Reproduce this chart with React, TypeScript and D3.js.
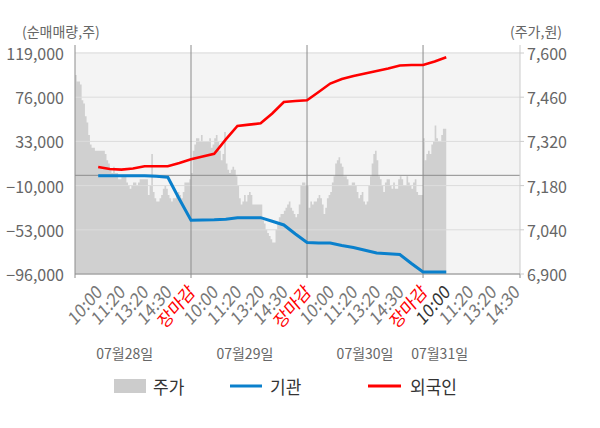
import React from "react";
import * as d3 from "d3";

// ---------- DATA ----------
const timeLabels = ["10:00", "11:20", "13:20", "14:30", "장마감"];
const dateLabels = ["07월28일", "07월29일", "07월30일", "07월31일"];
const dateLabelSlots = [30, 102.5, 175, 220];
const leftTicks = [119000, 76000, 33000, -10000, -53000, -96000];
const rightTicks = [7600, 7460, 7320, 7180, 7040, 6900];

// price (주가) per slot, each day 70 slots
const priceDay1 = [
  7530, 7510, 7510, 7500, 7450, 7440, 7400, 7380, 7340, 7310,
  7300, 7300, 7290, 7290, 7290, 7290, 7290, 7290, 7280, 7260,
  7250, 7230, 7220, 7240, 7220, 7220, 7200, 7200, 7210, 7210,
  7210, 7190, 7180, 7170, 7180, 7190, 7190, 7180, 7190, 7200,
  7200, 7200, 7200, 7200, 7150, 7180, 7280, 7160, 7140, 7130,
  7130, 7140, 7150, 7170, 7180, 7170, 7150, 7140, 7130, 7140,
  7140, 7150, 7160, 7150, 7140, 7160, 7190, 7190, 7190, 7200,
];
const priceDay2 = [
  7220, 7290, 7310, 7330, 7330, 7320, 7340, 7320, 7320, 7320,
  7320, 7330, 7300, 7310, 7330, 7340, 7320, 7290, 7260, 7280,
  7350, 7250, 7230, 7220, 7230, 7240, 7230, 7210, 7180, 7140,
  7120, 7130, 7150, 7130, 7150, 7160, 7150, 7120, 7120, 7120,
  7120, 7120, 7120, 7070, 7060, 7040, 7030, 7020, 7010, 7000,
  7000, 7040, 7060, 7080, 7090, 7090, 7100, 7110, 7120, 7130,
  7110, 7100, 7090, 7080, 7090, 7120, 7180, 7190, 7190, 7180,
];
const priceDay3 = [
  7180, 7110, 7130, 7120, 7130, 7130, 7140, 7150, 7140, 7120,
  7090, 7110, 7140, 7150, 7160, 7190, 7210, 7250, 7260, 7270,
  7250, 7240, 7210, 7210, 7200, 7180, 7180, 7190, 7190, 7180,
  7160, 7140, 7150, 7160, 7130, 7120, 7130, 7180, 7210, 7250,
  7280, 7290, 7260, 7210, 7200, 7180, 7160, 7190, 7200, 7200,
  7180, 7170, 7190, 7170, 7170, 7200, 7210, 7200, 7180, 7180,
  7210, 7190, 7180, 7170, 7190, 7200, 7160, 7150, 7150, 7150,
];
const priceDay4 = [7330, 7260, 7280, 7290, 7280, 7310, 7320, 7370, 7330, 7320, 7320, 7340, 7360, 7360];

// net buying (순매매량), one value every 7 slots starting at slot 14
const foreignNet = [
  8100, 6100, 5500, 6600, 8800, 8800, 8800, 12000, 15600, 18300,
  21000, 34900, 48000, 49300, 50600, 60100, 71300, 72300, 73000, 81000,
  89300, 93700, 96600, 99000, 101500, 103900, 106800, 107300, 107300, 110700,
  114800,
];
const institutionNet = [
  -300, -300, -300, -300, -300, -1000, -1900, -23300, -43800, -43500,
  -43300, -42800, -41300, -41200, -41200, -44700, -48300, -57100, -65400, -65800,
  -65800, -68300, -70200, -72900, -75600, -76300, -77000, -85800, -94100, -94100,
  -94100,
];

// ---------- LAYOUT ----------
const W = 600;
const H = 428;
const L = 75;
const R = 520;
const T = 52;
const B = 274;
const SLOTS_PER_DAY = 70;
const X_MAX = 268.5;
const FONT = "'Noto Sans CJK KR', 'Noto Sans', sans-serif";
const SY = 1.1; // slight vertical stretch of Hangul text seen in the reference

export default function App() {
  const x = d3.scaleLinear().domain([0, X_MAX]).range([L, R]);
  const yL = d3.scaleLinear().domain([-96000, 119000]).range([B, 53]);
  const yR = d3.scaleLinear().domain([6900, 7600]).range([B, 53]);

  const prices = [...priceDay1, ...priceDay2, ...priceDay3, ...priceDay4];
  const pricePts = prices.map((p, i) => [i, p] as [number, number]);
  pricePts.push([prices.length, prices[prices.length - 1]]);
  const area = d3
    .area<[number, number]>()
    .x((d) => x(d[0]))
    .y0(B)
    .y1((d) => yR(d[1]))
    .curve(d3.curveStepAfter);

  const line = d3
    .line<[number, number]>()
    .x((d) => x(d[0]))
    .y((d) => yL(d[1]));
  const redPts = foreignNet.map((v, i) => [14 + 7 * i, v] as [number, number]);
  const bluePts = institutionNet.map((v, i) => [14 + 7 * i, v] as [number, number]);

  const dayBounds = [1, 2, 3].map((d) => d * SLOTS_PER_DAY);
  const xTicks: { slot: number; label: string; k: number; day: number }[] = [];
  for (let d = 0; d < 4; d++) {
    timeLabels.forEach((lab, k) => {
      const s = d * SLOTS_PER_DAY + 14 * (k + 1);
      if (s <= X_MAX) xTicks.push({ slot: s, label: lab, k, day: d });
    });
  }
  const tickMarks = [0, ...dayBounds, X_MAX];

  const stretched = (tx: number, ty: number, k = SY) => `translate(${tx},${ty}) scale(1,${k})`;

  return (
    <svg
      width={W}
      height={H}
      style={{ position: "absolute", left: 0, top: 0, background: "#fff" }}
      fontFamily={FONT}
    >
      <rect x={L} y={T} width={R - L} height={B - T} fill="#f4f4f4" />
      <path d={area(pricePts) || ""} fill="#d0d0d0" />
      {leftTicks.map((t) => (
        <line key={"g" + t} x1={L} x2={R} y1={yL(t)} y2={yL(t)} stroke="#dcdcdc" strokeWidth={1} />
      ))}
      <line x1={L} x2={R} y1={yL(0)} y2={yL(0)} stroke="#8c8c8c" strokeWidth={1} />
      {dayBounds.map((s) => (
        <line key={"v" + s} x1={x(s)} x2={x(s)} y1={45} y2={B} stroke="#8c8c8c" strokeWidth={1} />
      ))}
      <line x1={L} x2={L} y1={45} y2={B} stroke="#8c8c8c" strokeWidth={1} />
      <line x1={R} x2={R} y1={45} y2={B} stroke="#cccccc" strokeWidth={1} />
      <line x1={L} x2={R} y1={B} y2={B} stroke="#8c8c8c" strokeWidth={1} />
      {tickMarks.map((s) => (
        <line key={"tm" + s} x1={x(s)} x2={x(s)} y1={B} y2={B + 4} stroke="#8c8c8c" strokeWidth={1} />
      ))}
      {rightTicks.map((t) => (
        <line key={"rt" + t} x1={R} x2={R + 4} y1={yR(t)} y2={yR(t)} stroke="#cccccc" strokeWidth={1} />
      ))}

      <path d={line(bluePts) || ""} fill="none" stroke="#0a80cc" strokeWidth={3} />
      <path d={line(redPts) || ""} fill="none" stroke="#ff0000" strokeWidth={2.6} />

      {/* axis titles */}
      <text x={22} y={31} fontSize={14} fill="#666" dominantBaseline="central">
        (순매매량,주)
      </text>
      <text x={562} y={31} fontSize={14} fill="#666" textAnchor="end" dominantBaseline="central">
        (주가,원)
      </text>

      {leftTicks.map((t) => (
        <text key={"lt" + t} x={64} y={yL(t)} fontSize={16} fill="#666" textAnchor="end" dominantBaseline="central">
          {d3.format(",")(t)}
        </text>
      ))}
      {rightTicks.map((t) => (
        <text key={"rl" + t} x={527} y={yR(t)} fontSize={16} fill="#666" dominantBaseline="central">
          {d3.format(",")(t)}
        </text>
      ))}

      {xTicks.map((t) => {
        const tx = x(t.slot) + 5;
        const ty = 293;
        const color = t.k === 4 ? "#ff0000" : t.day === 3 && t.k === 0 ? "#333" : "#777";
        return (
          <text
            key={"xt" + t.slot}
            fontSize={16}
            fill={color}
            textAnchor="end"
            transform={`translate(${tx},${ty}) scale(1,1.18) rotate(-45)`}
          >
            {t.label}
          </text>
        );
      })}

      {dateLabels.map((lab, i) => (
        <text key={lab} x={x(dateLabelSlots[i])} y={353} fontSize={14} fill="#666" textAnchor="middle" dominantBaseline="central">
          {lab}
        </text>
      ))}

      {/* legend */}
      <rect x={114} y={379} width={32} height={14} fill="#cccccc" />
      <text transform={stretched(153, 386)} fontSize={17} fill="#333" dominantBaseline="central">주가</text>
      <line x1={230} x2={262} y1={386} y2={386} stroke="#0a80cc" strokeWidth={3} />
      <text transform={stretched(270, 386)} fontSize={17} fill="#333" dominantBaseline="central">기관</text>
      <line x1={368} x2={401} y1={386} y2={386} stroke="#ff0000" strokeWidth={3} />
      <text transform={stretched(410, 386)} fontSize={17} fill="#333" dominantBaseline="central">외국인</text>
    </svg>
  );
}
